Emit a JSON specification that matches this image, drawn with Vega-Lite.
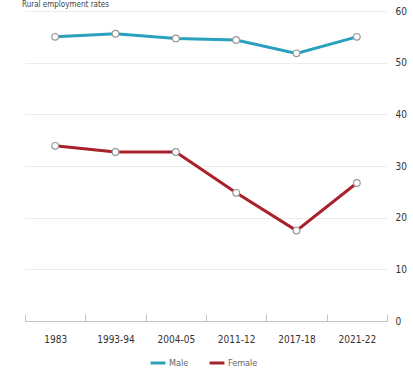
{
  "$schema": "https://vega.github.io/schema/vega-lite/v6.json",
  "autosize": {"type": "none"},
  "width": 362,
  "height": 310,
  "padding": {"left": 25, "top": 11, "right": 26, "bottom": 55},
  "background": "white",
  "view": {"stroke": null},
  "title": {
    "text": "Rural employment rates",
    "anchor": "start",
    "frame": "group",
    "offset": -3,
    "dx": -3,
    "fontSize": 8,
    "fontWeight": "normal",
    "color": "#444",
    "font": "DejaVu Sans Condensed"
  },
  "data": {
    "values": [
      {"year": "1983", "gender": "Male", "rate": 55.0},
      {"year": "1993-94", "gender": "Male", "rate": 55.6},
      {"year": "2004-05", "gender": "Male", "rate": 54.7},
      {"year": "2011-12", "gender": "Male", "rate": 54.4},
      {"year": "2017-18", "gender": "Male", "rate": 51.8},
      {"year": "2021-22", "gender": "Male", "rate": 55.0},
      {"year": "1983", "gender": "Female", "rate": 33.9},
      {"year": "1993-94", "gender": "Female", "rate": 32.7},
      {"year": "2004-05", "gender": "Female", "rate": 32.7},
      {"year": "2011-12", "gender": "Female", "rate": 24.8},
      {"year": "2017-18", "gender": "Female", "rate": 17.5},
      {"year": "2021-22", "gender": "Female", "rate": 26.7}
    ]
  },
  "encoding": {
    "x": {
      "field": "year",
      "type": "ordinal",
      "sort": null,
      "scale": {"type": "band", "paddingInner": 0, "paddingOuter": 0},
      "axis": {
        "title": null,
        "labelAngle": 0,
        "labelFont": "DejaVu Sans Condensed",
        "labelFontSize": 10,
        "labelColor": "#333",
        "labelPadding": 20,
        "domainColor": "#c4c4c4",
        "tickColor": "#c4c4c4",
        "tickBand": "extent",
        "tickSize": -7,
        "tickOffset": 0,
        "grid": false
      }
    },
    "y": {
      "field": "rate",
      "type": "quantitative",
      "scale": {"domain": [0, 60], "nice": false},
      "axis": {
        "orient": "right",
        "title": null,
        "values": [0, 10, 20, 30, 40, 50, 60],
        "domain": false,
        "ticks": false,
        "labelPadding": 8,
        "labelFont": "DejaVu Sans Condensed",
        "labelFontSize": 10,
        "labelColor": "#333",
        "gridColor": "#ececec",
        "gridWidth": 1
      }
    },
    "color": {
      "field": "gender",
      "type": "nominal",
      "scale": {"domain": ["Male", "Female"], "range": ["#2aa0bd", "#a8212b"]},
      "legend": {
        "title": null,
        "orient": "none",
        "direction": "horizontal",
        "legendX": 124,
        "legendY": 343,
        "symbolType": "stroke",
        "symbolSize": 220,
        "symbolStrokeWidth": 3,
        "labelFont": "DejaVu Sans Condensed",
        "labelFontSize": 9,
        "labelColor": "#666",
        "columnPadding": 14,
        "labelOffset": 2
      }
    }
  },
  "layer": [
    {"mark": {"type": "line", "strokeWidth": 3}},
    {
      "mark": {"type": "point", "filled": true, "fill": "white", "stroke": "#999", "strokeWidth": 1.2, "size": 45, "opacity": 1},
      "encoding": {"color": {"value": "white"}}
    }
  ]
}
